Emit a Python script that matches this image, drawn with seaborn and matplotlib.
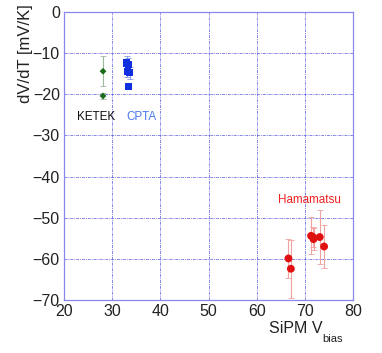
import matplotlib
matplotlib.use("Agg")
import matplotlib.pyplot as plt
import seaborn as sns
import pandas as pd

ketek_x = [28.1, 28.1]
ketek_y = [-14.4, -20.4]
ketek_err = [3.7, 0.7]

cpta_x = [33.0, 33.3, 33.1, 33.6, 33.3]
cpta_y = [-12.4, -12.8, -14.4, -14.8, -18.2]
cpta_err = [1.8, 1.5, 1.5, 1.5, 0.6]

hama_x = [66.6, 67.1, 71.3, 71.7, 71.8, 73.1, 74.0]
hama_y = [-59.9, -62.4, -54.4, -54.7, -55.2, -54.7, -57.0]
hama_err = [4.7, 7.0, 4.5, 2.5, 2.7, 6.5, 5.2]

xticks = [20, 30, 40, 50, 60, 70, 80]
yticks = [0, -10, -20, -30, -40, -50, -60, -70]

sns.set_theme(style="white")
plt.rcParams['font.family'] = ['Liberation Sans', 'DejaVu Sans']

fig = plt.figure(figsize=(3.82, 3.53), dpi=100)
ax = fig.add_axes([64/382, 1 - 300/353, (353-64)/382, (300-12)/353])

df = pd.concat([
    pd.DataFrame({"x": ketek_x, "y": ketek_y, "g": "KETEK"}),
    pd.DataFrame({"x": cpta_x, "y": cpta_y, "g": "CPTA"}),
    pd.DataFrame({"x": hama_x, "y": hama_y, "g": "Hamamatsu"}),
])

ax.errorbar(ketek_x, ketek_y, yerr=ketek_err, fmt="none", ecolor="#9bb89b", elinewidth=0.8, capsize=2, capthick=0.6, zorder=2)
ax.errorbar(cpta_x, cpta_y, yerr=cpta_err, fmt="none", ecolor="#8a9ae8", elinewidth=0.8, capsize=2, capthick=0.6, zorder=2)
ax.errorbar(hama_x, hama_y, yerr=hama_err, fmt="none", ecolor="#f2a0a0", elinewidth=0.8, capsize=2, capthick=0.6, zorder=2)

sns.scatterplot(data=df, x="x", y="y", hue="g", style="g", size="g",
                palette={"KETEK": "#1a6b1a", "CPTA": "#1030e0", "Hamamatsu": "#e01010"},
                markers={"KETEK": "D", "CPTA": "s", "Hamamatsu": "o"},
                sizes={"KETEK": 12, "CPTA": 26, "Hamamatsu": 32},
                linewidth=0, legend=False, ax=ax, zorder=3)

ax.set_xlim(20, 80)
ax.set_ylim(-70, 0)
ax.set_xticks(xticks)
ax.set_yticks(yticks)
ax.tick_params(axis="both", length=0, labelsize=11.5, pad=3, colors="#222222")
ax.grid(True, color="#6666dd", linestyle=(0, (3, 1, 1, 1)), linewidth=0.7, alpha=0.8)
for s in ax.spines.values():
    s.set_color("#8888ee")
    s.set_linewidth(0.9)

ax.set_xlabel("SiPM V", fontsize=11.5, color="#222222", ha="left", va="top")
ax.xaxis.set_label_coords((269 - 64) / 289, (300 - 321) / 288)
ax.text((322 - 64) / 289, (300 - 334) / 288, "bias", transform=ax.transAxes,
        fontsize=8, color="#222222", ha="left", va="top")
ax.set_ylabel("dV/dT [mV/K]", fontsize=12, color="#222222")
ax.yaxis.set_label_coords(-0.108, 0.854)

ax.text(22.8, -25.5, "KETEK", color="#111111", fontsize=8.4, va="center", ha="left")
ax.text(32.9, -25.5, "CPTA", color="#4a78f0", fontsize=8.4, va="center", ha="left")
ax.text(64.4, -45.8, "Hamamatsu", color="#ee2020", fontsize=8.4, va="center", ha="left")

fig.savefig("out.png", dpi=100)
